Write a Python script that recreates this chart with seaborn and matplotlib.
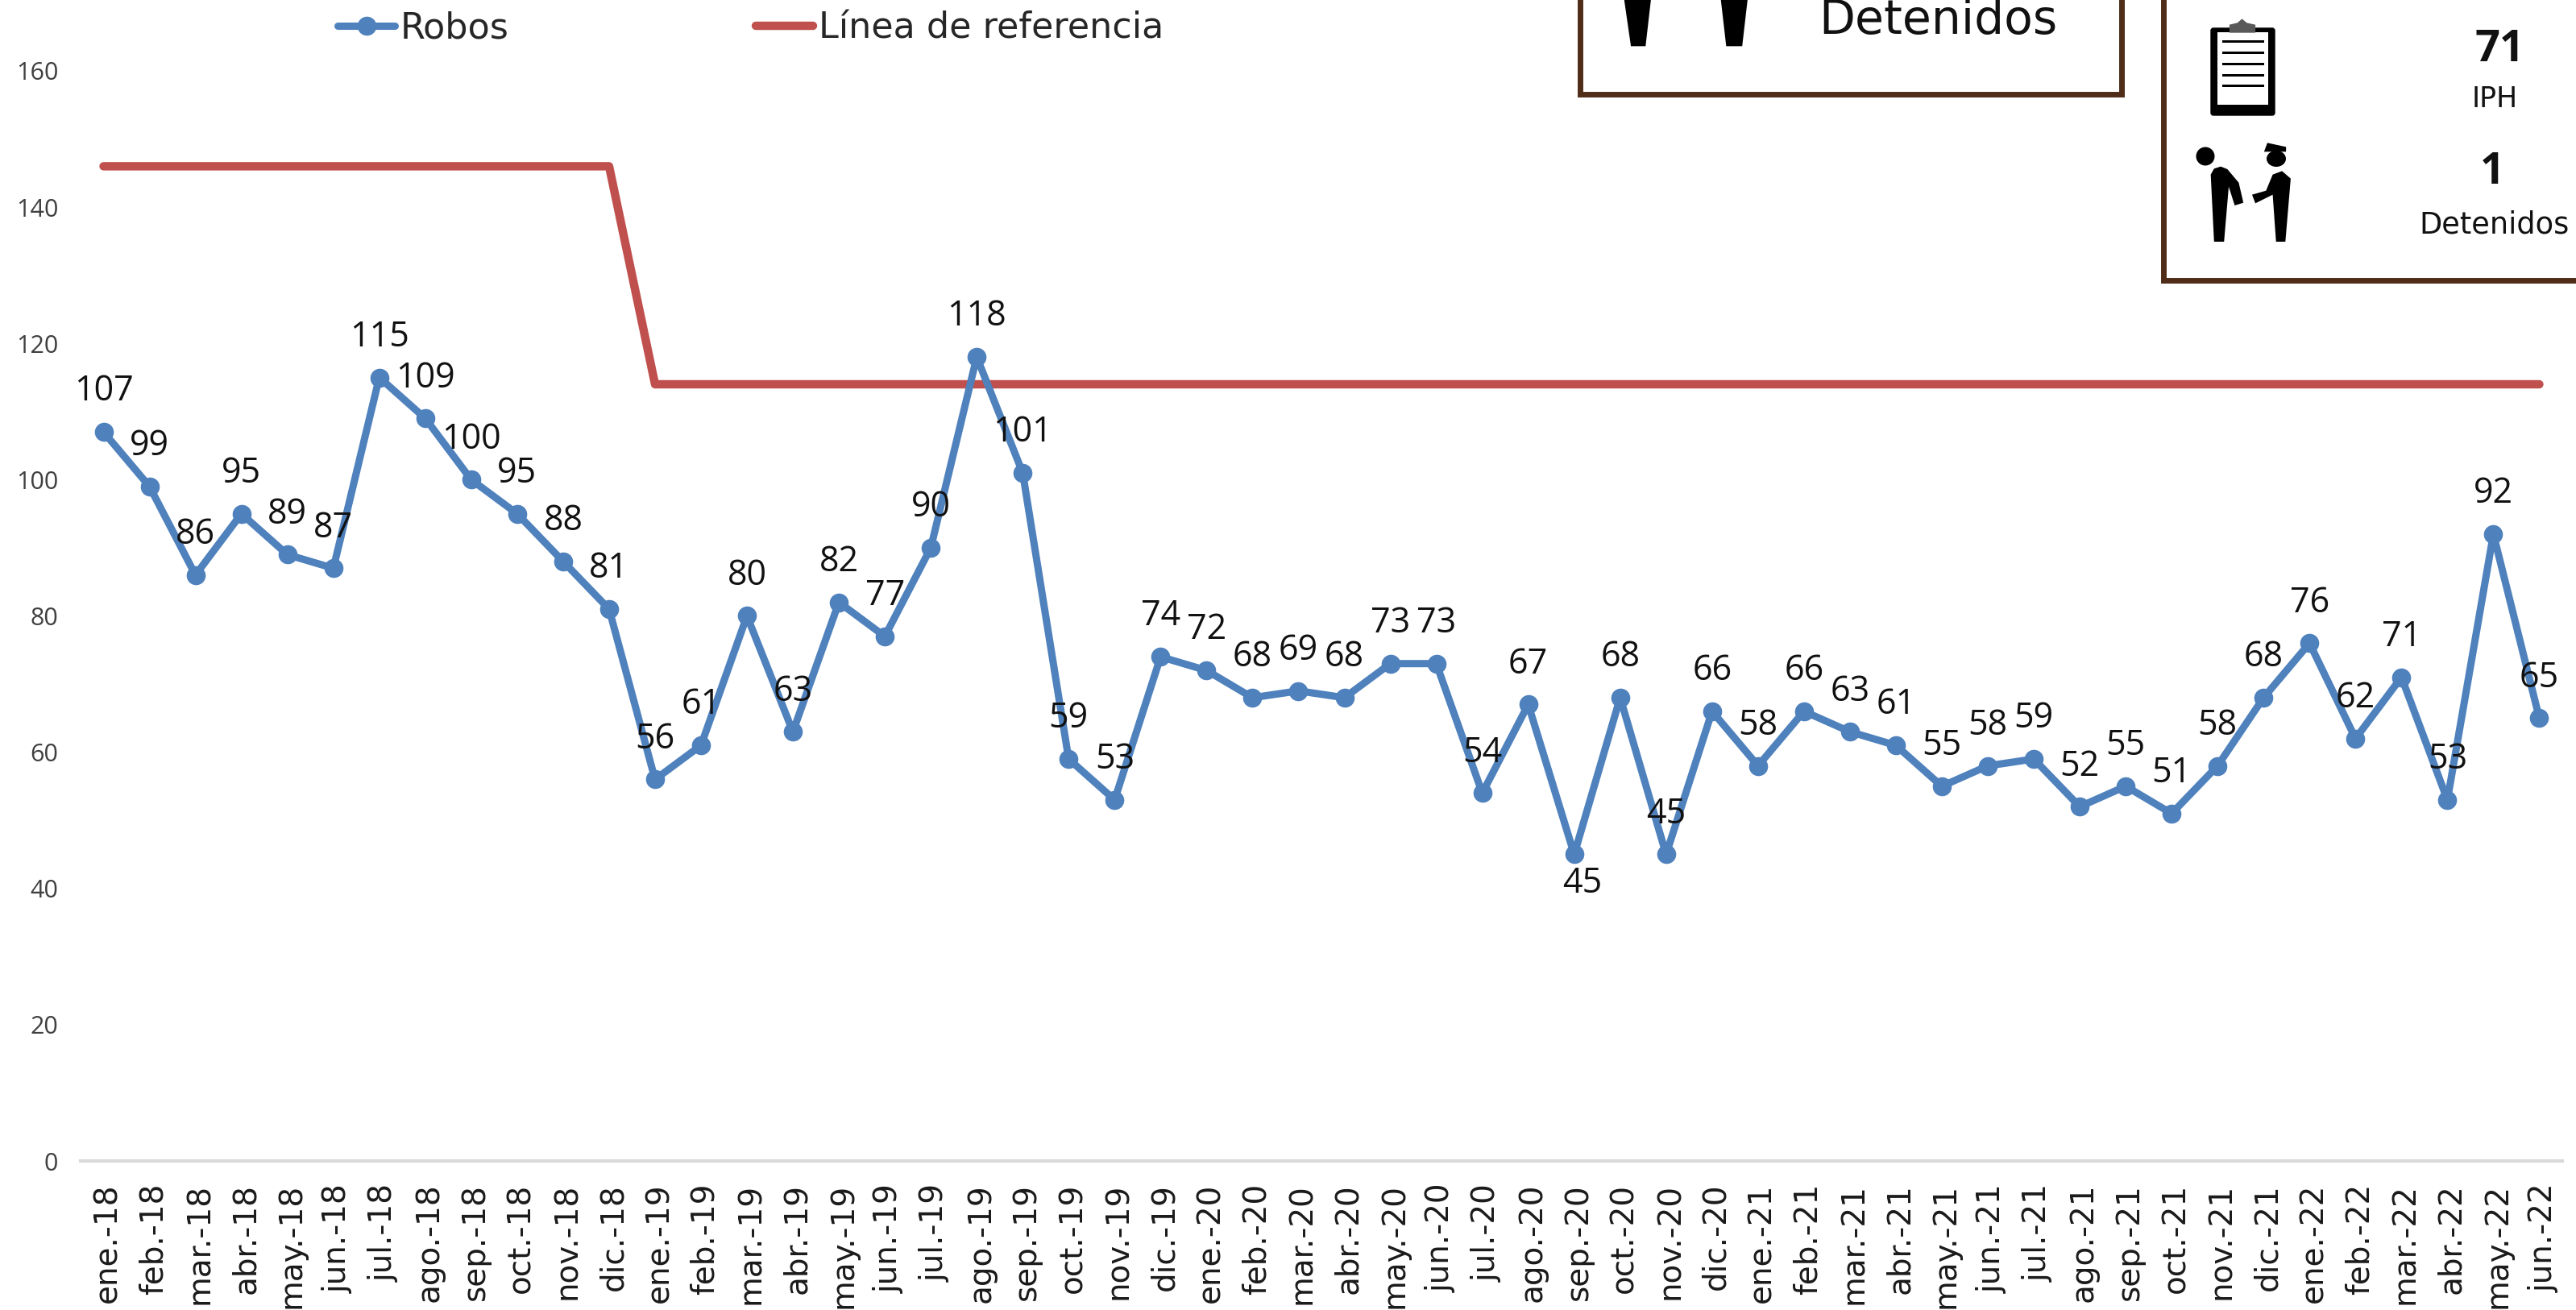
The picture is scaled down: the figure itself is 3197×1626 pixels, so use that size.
# Import library
import pandas as pd
import matplotlib.pyplot as plt
import seaborn as sns
from matplotlib.patches import Rectangle, Polygon, Ellipse, FancyBboxPatch
from matplotlib.transforms import ScaledTranslation

# Data
meses = ["ene.", "feb.", "mar.", "abr.", "may.", "jun.", "jul.", "ago.", "sep.", "oct.", "nov.", "dic."]
etiquetas = [f"{m}-{a}" for a in (18, 19, 20, 21) for m in meses] + [f"{m}-22" for m in meses[:6]]
robos = [107, 99, 86, 95, 89, 87, 115, 109, 100, 95, 88, 81,
         56, 61, 80, 63, 82, 77, 90, 118, 101, 59, 53, 74,
         72, 68, 69, 68, 73, 73, 54, 67, 45, 68, 45, 66,
         58, 66, 63, 61, 55, 58, 59, 52, 55, 51, 58, 68,
         76, 62, 71, 53, 92, 65]
referencia = [146] * 12 + [114] * 42
yticks = [0, 20, 40, 60, 80, 100, 120, 140, 160]

W, H = 3197, 1626
AZUL = "#4F81BD"
ROJO = "#C0504D"
CAFE = "#4F2D18"

df = pd.DataFrame({"mes": etiquetas, "robos": robos, "referencia": referencia})

sns.set_theme(style="white")
plt.rcParams["font.family"] = "DejaVu Sans"

fig = plt.figure(figsize=(W / 100, H / 100), dpi=100)
ax = fig.add_axes([100 / W, 1 - 1441 / H, (3180 - 100) / W, (1441 - 88) / H])

# Lines
sns.lineplot(data=df, x="mes", y="robos", ax=ax, color=AZUL, linewidth=6.5, marker="o",
             markersize=17, markeredgewidth=0, sort=False, label="Robos", zorder=3)
sns.lineplot(data=df, x="mes", y="referencia", ax=ax, color=ROJO, linewidth=7.5,
             sort=False, label="Línea de referencia", zorder=2)

ax.set_xlim(-0.5, 53.5)
ax.set_ylim(0, 160)
ax.set_xlabel("")
ax.set_ylabel("")
ax.set_yticks(yticks)
ax.set_xticks(range(len(etiquetas)))
ax.set_xticklabels(etiquetas, rotation=90, fontsize=28, color="#1a1a1a", va="top", ha="center")
ax.tick_params(axis="x", length=0, pad=20)
ax.tick_params(axis="y", length=0, pad=20)
# x labels sit a little right of their points
for lab in ax.get_xticklabels():
    lab.set_transform(lab.get_transform() + ScaledTranslation(5 / 100, 0, fig.dpi_scale_trans))
for lab in ax.get_yticklabels():
    lab.set_fontfamily("Open Sans")
    lab.set_fontsize(22)
    lab.set_color("#404040")
sns.despine(ax=ax, left=True)
ax.spines["bottom"].set_color("#D9D9D9")
ax.spines["bottom"].set_linewidth(3)

# Data labels
for i, v in enumerate(robos):
    if i == 32:
        offset = (7, -26)
    else:
        offset = (0, 36)
    ax.annotate(str(v), (i, v), xytext=offset, textcoords="offset points", ha="center",
                va="center", fontsize=31, family="Open Sans", color="#111111", zorder=4)

# Legend
ax.legend(loc="upper left", bbox_to_anchor=(419 / W, 1 - 14 / H), bbox_transform=fig.transFigure,
          ncol=2, frameon=False, fontsize=32, handlelength=1.6, handletextpad=0.15,
          columnspacing=6.9, borderpad=0, borderaxespad=0)

# Overlay in pixels for the panels
ov = fig.add_axes([0, 0, 1, 1], zorder=5)
ov.set_xlim(0, W)
ov.set_ylim(H, 0)
ov.axis("off")
ov.patch.set_alpha(0)


def z(puntos):
    return [(1900 + x / 1.209, y / 3) for x, y in puntos]


# Boxes
ov.add_patch(Rectangle((1961, -20), 672, 137.5, fill=False, ec=CAFE, lw=5))
ov.add_patch(Rectangle((2685, -20), 600, 368.5, fill=False, ec=CAFE, lw=5))

# Legs in the first box
ov.add_patch(Polygon(z([(140, 0), (180, 0), (172, 172), (150, 172)]), color="black", lw=0))
ov.add_patch(Polygon(z([(285, 0), (325, 0), (317, 172), (293, 172)]), color="black", lw=0))

# Clipboard
ov.add_patch(FancyBboxPatch((2744, 35), 79, 108, boxstyle="round,pad=0,rounding_size=3", fc="black", ec="black", lw=1))
ov.add_patch(Rectangle((2752, 40), 63, 90, fc="white", ec="none"))
ov.add_patch(Polygon(z([(1048, 122), (1048, 92), (1060, 85), (1067, 70), (1074, 85), (1087, 92), (1087, 122)]),
                     color="#595959", lw=0))
for ly in [52, 66, 80, 94, 107]:
    ov.add_patch(Rectangle((2758, ly - 1.5), 52, 3, fc="black", ec="none"))

# Persons
ov.add_patch(Ellipse((2737, 194), 23, 23, color="black", lw=0))
ov.add_patch(Polygon(z([(1020, 650), (1025, 900), (1040, 900), (1047, 695), (1056, 765), (1069, 755),
                        (1062, 680), (1045, 630), (1035, 620), (1025, 628)]), color="black", lw=0))
ov.add_patch(Ellipse((2825, 197), 24, 20, color="black", lw=0))
ov.add_patch(Polygon(z([(1105, 532), (1133, 547), (1133, 565), (1100, 565)]), color="black", lw=0))
ov.add_patch(Polygon(z([(1127, 637), (1140, 665), (1132, 900), (1118, 900), (1113, 725), (1087, 757),
                        (1082, 725), (1103, 710), (1113, 650)]), color="black", lw=0))

# Panel text
ov.text(2405, 42, "Detenidos", ha="center", va="baseline", fontsize=42, color="#111111")
ov.text(3102, 76, "71", ha="center", va="baseline", fontsize=39, family="Open Sans", weight="bold", color="#111111")
ov.text(3096, 133, "IPH", ha="center", va="baseline", fontsize=25, color="#111111")
ov.text(3093, 228, "1", ha="center", va="baseline", fontsize=39, family="Open Sans", weight="bold", color="#111111")
ov.text(3096, 289, "Detenidos", ha="center", va="baseline", fontsize=26.5, color="#111111")

fig.savefig("out.png", dpi=100)
